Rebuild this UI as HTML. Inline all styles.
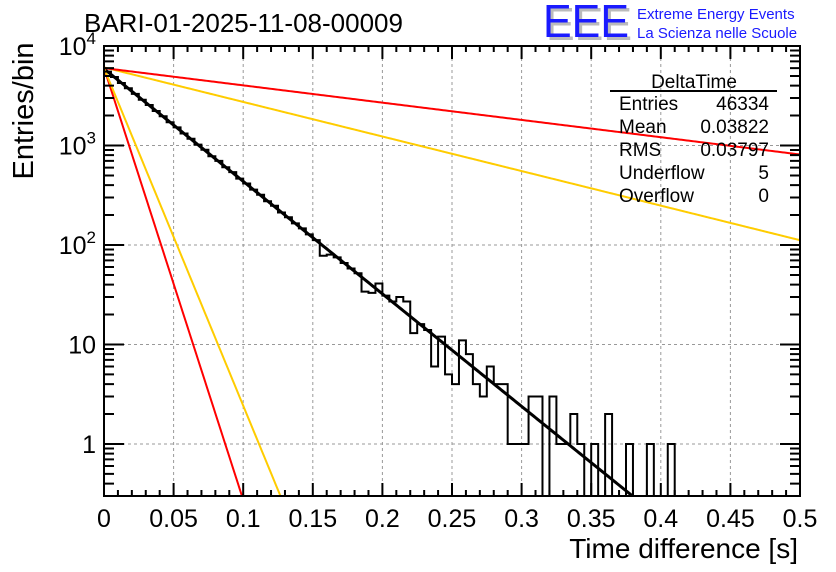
<!DOCTYPE html>
<html><head><meta charset="utf-8"><style>
body{margin:0;background:#fff;}
svg{display:block;font-family:"Liberation Sans",sans-serif;}
</style></head><body>
<svg id="c" width="836" height="572" viewBox="0 0 836 572">
<rect width="836" height="572" fill="#fff"/>
<text x="84" y="32" font-size="26">BARI-01-2025-11-08-00009</text>
<g>
<text x="546" y="40" font-size="46" fill="#bbb" textLength="86" lengthAdjust="spacingAndGlyphs">EEE</text>
<text x="543" y="37" font-size="46" fill="#1a1aff" textLength="86" lengthAdjust="spacingAndGlyphs">EEE</text>
<text x="637" y="19" font-size="15" fill="#1a1aff">Extreme Energy Events</text>
<text x="637" y="38" font-size="15" fill="#1a1aff">La Scienza nelle Scuole</text>
</g>
<g id="grid"></g>
<g id="curves"></g>
<g id="hist"></g>
<g id="axes"></g>
<g font-size="19">
<text x="694" y="88" text-anchor="middle">DeltaTime</text>
<line x1="610" y1="91" x2="777" y2="91" stroke="#000" stroke-width="2"/>
<text x="619" y="110">Entries</text><text x="769" y="110" text-anchor="end">46334</text>
<text x="619" y="133">Mean</text><text x="769" y="133" text-anchor="end">0.03822</text>
<text x="619" y="156">RMS</text><text x="769" y="156" text-anchor="end">0.03797</text>
<text x="619" y="179">Underflow</text><text x="769" y="179" text-anchor="end">5</text>
<text x="619" y="202">Overflow</text><text x="769" y="202" text-anchor="end">0</text>
</g>
<text x="798" y="558" font-size="28" text-anchor="end">Time difference [s]</text>
<text transform="translate(33,111) rotate(-90)" font-size="29" text-anchor="middle">Entries/bin</text>
</svg>
<script>
const binWidth = 0.005;
const counts = [5530,4880,4250,3760,3300,2880,2550,2220,1970,1710,1520,1320,1170,1020,905,780,700,605,540,465,415,360,320,275,248,212,190,165,147,128,112,78,80,75,66,58,52,34,33,41,31,27,30,27,13,16,14,6,12,5,4,11,8,4,3,6,4,4,1,1,1,3,3,0,3,1,1,2,1,0,1,0,2,0,0,1,0,0,1,0,0,1,0,0,0,0,0,0,0,0,0,0,0,0,0,0,0,0,0,0];
const fitN0 = [5900, 6050, 6000, 6100, 6000];
const fitTau = [0.0384, 0.0100, 0.0128, 0.125, 0.25];
const fitColor = ['#000','#ff0000','#ffcc00','#ffcc00','#ff0000'];
const xTicks = ['0','0.05','0.1','0.15','0.2','0.25','0.3','0.35','0.4','0.45','0.5'];
const yTicks = ['1','10','10^2','10^3','10^4'];

const L=104,R=800,T=46,B=496, XMAX=0.5, LMIN=Math.log10(0.3), LMAX=4;
const sx=v=>L+(v/XMAX)*(R-L);
const sy=v=>{ if(v<=0) return B; let y=T+(LMAX-Math.log10(v))/(LMAX-LMIN)*(B-T); return Math.min(B,Math.max(T,y)); };
const NS='http://www.w3.org/2000/svg';
function mk(tag,attrs,parent){const e=document.createElementNS(NS,tag);for(const k in attrs)e.setAttribute(k,attrs[k]);parent.appendChild(e);return e;}
const grid=document.getElementById('grid'),axes=document.getElementById('axes'),curves=document.getElementById('curves'),hist=document.getElementById('hist');

xTicks.forEach((t,i)=>{const v=i*0.05;const x=sx(v);
 if(i>0&&i<xTicks.length-1){const g=mk('line',{x1:x,y1:T,x2:x,y2:B,stroke:'#999','stroke-dasharray':'3,3','stroke-width':1},grid);
 }
 const tl=mk('text',{x:x,y:B+31,'font-size':25,'text-anchor':'middle'},axes);tl.textContent=t;
 
});
yTicks.forEach((t,i)=>{const y=sy(Math.pow(10,i));
 if(i<yTicks.length-1){const g=mk('line',{x1:L,y1:y,x2:R,y2:y,stroke:'#999','stroke-dasharray':'3,3','stroke-width':1},grid);
 }
 const tl=mk('text',{x:96,y:y+9,'font-size':25,'text-anchor':'end'},axes);
 
 if(t.indexOf('^')>0){const p=t.split('^');tl.textContent=p[0];const s=mk('tspan',{'font-size':17,dy:-11},tl);s.textContent=p[1];}
 else tl.textContent=t;
});

fitN0.forEach((n0,k)=>{let d='';for(let i=0;i<=400;i++){const t=i*XMAX/400;const v=n0*Math.exp(-t/fitTau[k]);
 if(Math.log10(v)<LMIN){d+='L'+sx(-fitTau[k]*Math.log(0.3/n0)).toFixed(2)+','+B;break;}
 d+=(i?'L':'M')+sx(t).toFixed(2)+','+sy(v).toFixed(2);}
 const p=mk('path',{d:d,fill:'none',stroke:fitColor[k],'stroke-width':k===0?3:2},curves);
 
});

let d='M'+sx(0)+','+B;
counts.forEach((c,i)=>{const x0=sx(i*binWidth),x1=sx((i+1)*binWidth),y=sy(c);d+='L'+x0.toFixed(2)+','+y.toFixed(2)+'L'+x1.toFixed(2)+','+y.toFixed(2);});
d+='L'+sx(counts.length*binWidth)+','+B;
const hp=mk('path',{d:d,fill:'none',stroke:'#000','stroke-width':2},hist);


const fr=mk('rect',{x:L,y:T,width:R-L,height:B-T,fill:'none',stroke:'#000','stroke-width':2},axes);

let td='';
for(let i=0;i<=50;i++){const x=sx(i*0.01);const len=(i%5===0)?13:6;td+=`M${x},${B}v${-len}M${x},${T}v${len}`;}
for(let e=-1;e<4;e++){for(let m=1;m<10;m++){const v=m*Math.pow(10,e);if(Math.log10(v)<LMIN)continue;const y=sy(v);const len=m===1?20:10;td+=`M${L},${y}h${len}M${R},${y}h${-len}`;}}
const y4=sy(1e4);td+=`M${L},${y4}h20M${R},${y4}h-20`;
const tk=mk('path',{d:td,stroke:'#000','stroke-width':2,fill:'none'},axes);

</script>
</body></html>
